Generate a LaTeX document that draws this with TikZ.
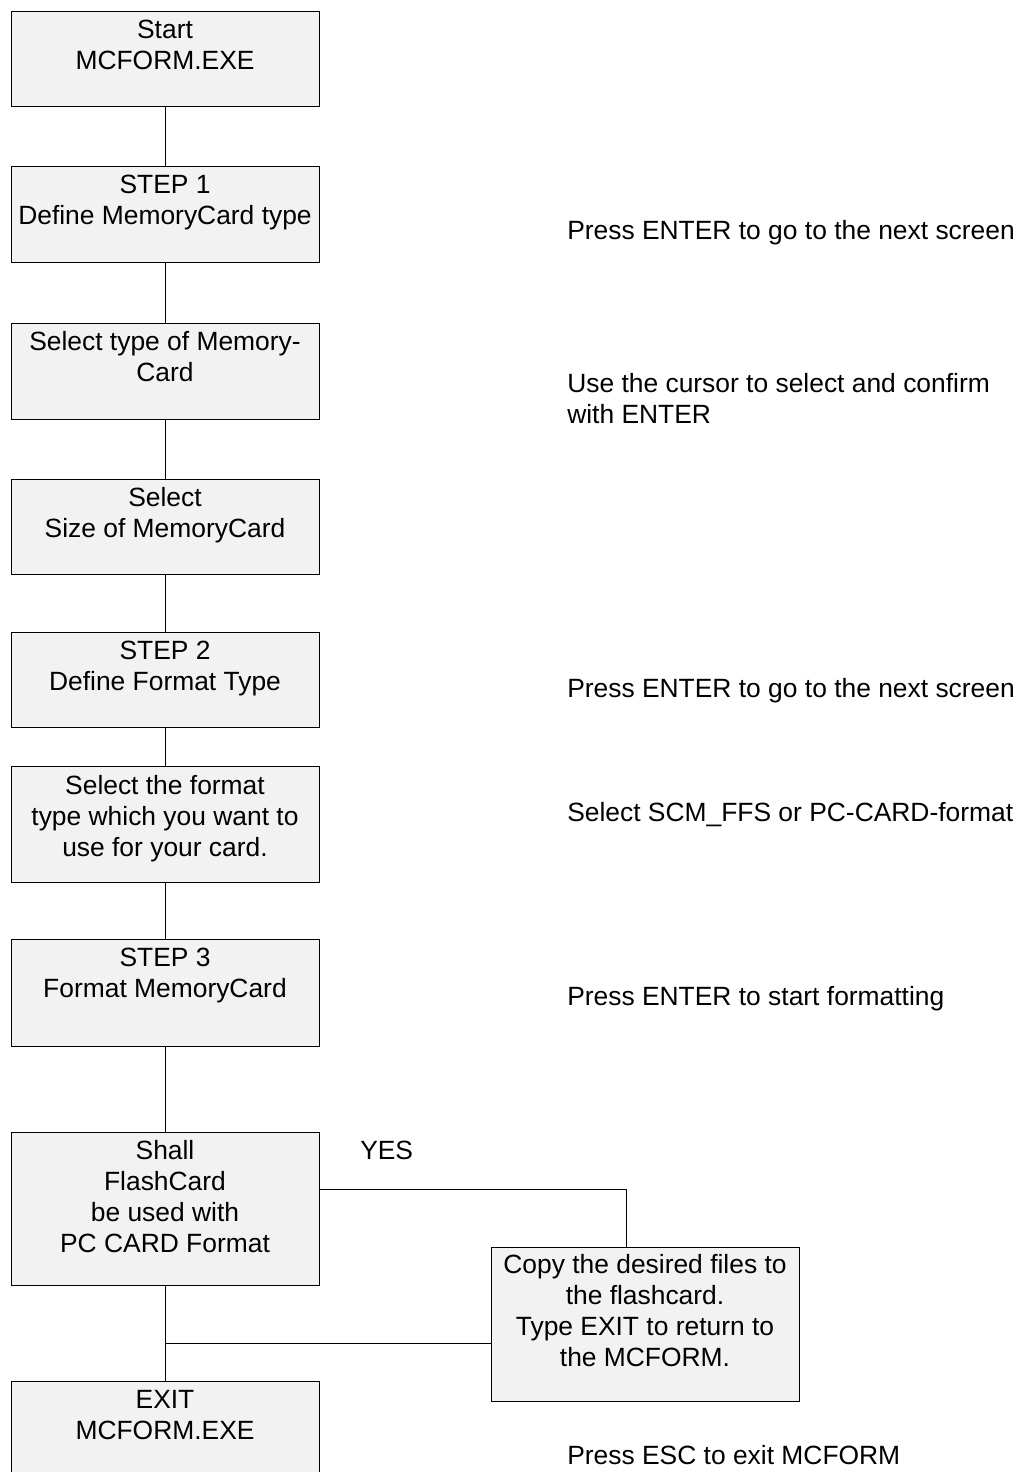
\documentclass[tikz,border=0pt]{standalone}
\usepackage{fontspec}
\setmainfont{Liberation Sans}
\usetikzlibrary{calc}
\definecolor{boxfill}{HTML}{F2F2F2}
\newcommand{\fs}{\rule{0pt}{15pt}}
\tikzset{
  box/.style={draw=black, line width=0.75pt, fill=boxfill, rectangle, inner sep=0pt,
    minimum width=231pt},
  boxtext/.style={anchor=north, inner sep=0pt, align=center,
    font=\fontsize{19.8pt}{23.25pt}\selectfont},
  rtext/.style={anchor=north west, inner sep=0pt, align=left,
    font=\fontsize{19.8pt}{23.25pt}\selectfont},
  conn/.style={draw=black, line width=0.75pt}
}
\begin{document}
\begin{tikzpicture}[x=0.75pt, y=-0.75pt]
\useasboundingbox (0,0) rectangle (1030,1472);
% boxes
\node[box, minimum height=71.25pt] (b1) at (165,58.5) {};
\node[box, minimum height=72pt] (b2) at (165,214) {};
\node[box, minimum height=72pt] (b3) at (165,371) {};
\node[box, minimum height=71.25pt] (b4) at (165,526.5) {};
\node[box, minimum height=71.25pt] (b5) at (165,679.5) {};
\node[box, minimum height=87pt] (b6) at (165,824) {};
\node[box, minimum height=80.25pt] (b7) at (165,992.5) {};
\node[box, minimum height=114.75pt] (b8) at (165,1208.5) {};
\node[box, minimum height=74.25pt] (b9) at (165,1430.5) {};
\node[box, minimum height=115.5pt] (cp) at (645,1324) {};
% box texts
\node[boxtext] (t1) at (165,18) {\fs Start\\MCFORM.EXE};
\node[boxtext] (t2) at (165,173) {\fs STEP 1\\Define MemoryCard type};
\node[boxtext] (t3) at (165,330) {\fs Select type of Memory-\\Card};
\node[boxtext] (t4) at (165,486) {\fs Select\\Size of MemoryCard};
\node[boxtext] (t5) at (165,639) {\fs STEP 2\\Define Format Type};
\node[boxtext] (t6) at (165,774) {\fs Select the format\\type which you want to\\use for your card.};
\node[boxtext] (t7) at (165,946) {\fs STEP 3\\Format MemoryCard};
\node[boxtext] (t8) at (165,1139) {\fs Shall\\FlashCard\\be used with\\PC CARD Format};
\node[boxtext] (t9) at (165,1388) {\fs EXIT\\MCFORM.EXE};
\node[boxtext] (tc) at (645,1253) {\fs Copy the desired files to\\the flashcard.\\Type EXIT to return to\\the MCFORM.};
% right-hand notes
\node[rtext] (r1) at (567,219) {\fs Press ENTER to go to the next screen};
\node[rtext] (r2) at (567,372) {\fs Use the cursor to select and confirm\\with ENTER};
\node[rtext] (r3) at (567,677) {\fs Press ENTER to go to the next screen};
\node[rtext] (r4) at (567,801) {\fs Select SCM\_FFS or PC-CARD-format};
\node[rtext] (r5) at (567,985) {\fs Press ENTER to start formatting};
\node[rtext] (r6) at (567,1444) {\fs Press ESC to exit MCFORM};
\node[rtext] (yes) at (360,1139) {\fs YES};
% connectors
\draw[conn] (b1.south) -- (b2.north);
\draw[conn] (b2.south) -- (b3.north);
\draw[conn] (b3.south) -- (b4.north);
\draw[conn] (b4.south) -- (b5.north);
\draw[conn] (b5.south) -- (b6.north);
\draw[conn] (b6.south) -- (b7.north);
\draw[conn] (b7.south) -- (b8.north);
\draw[conn] (b8.south) -- (b9.north);
\coordinate (yc) at (626,1189);
\coordinate (jn) at (165,1343);
\draw[conn] (b8.east |- yc) -- (yc) -- (yc |- cp.north);
\draw[conn] (cp.west |- jn) -- (jn);
\end{tikzpicture}
\end{document}
